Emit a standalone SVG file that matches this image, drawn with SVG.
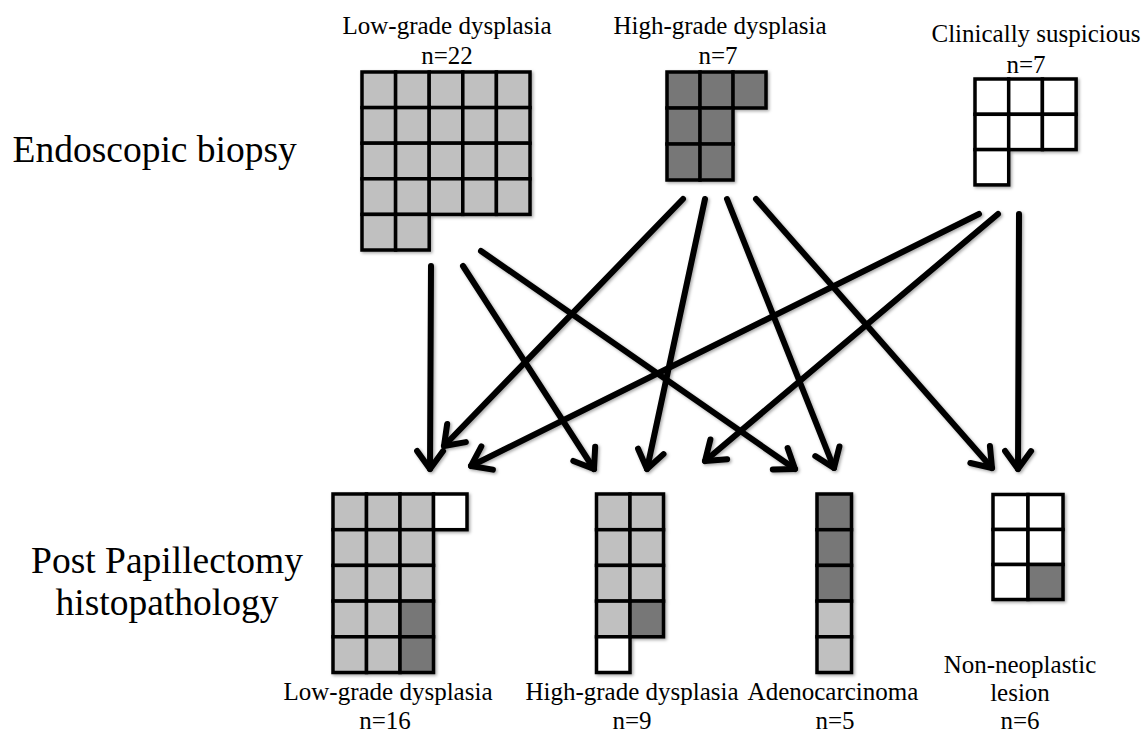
<svg xmlns="http://www.w3.org/2000/svg" width="1144" height="738" viewBox="0 0 1144 738">
<style>
text{font-family:'Liberation Serif','Times New Roman',Tinos,'DejaVu Serif',serif;fill:#000;}
.t{font-size:25px;}
.big{font-size:37.5px;}
.c{stroke:#000;stroke-width:3.5;stroke-linejoin:miter;}
.g{fill:#c0c0c0;}
.d{fill:#777777;}
.w{fill:#ffffff;}
.a{stroke:#000;stroke-width:6;stroke-linecap:round;fill:none;marker-end:url(#ah);}
</style>
<defs>
<marker id="ah" markerUnits="userSpaceOnUse" orient="auto" refX="0" refY="0" markerWidth="40" markerHeight="40" viewBox="-25 -20 30 40" overflow="visible">
<path d="M-18,-13 L0,0 L-18,13" fill="none" stroke="#000" stroke-width="6" stroke-linecap="round" stroke-linejoin="round"/>
</marker>
<filter id="sh" x="-10%" y="-10%" width="130%" height="130%">
<feDropShadow dx="1.5" dy="1.5" stdDeviation="1.5" flood-color="#000" flood-opacity="0.35"/>
</filter>
</defs>
<rect x="0" y="0" width="1144" height="738" fill="#fff"/>

<g id="label-endoscopic">
<text class="big" x="12.5" y="161.5" font-family="Liberation Serif, serif">Endoscopic biopsy</text>
</g>
<g id="label-post">
<text class="big" x="167" y="573" text-anchor="middle" font-family="Liberation Serif, serif">Post Papillectomy</text>
<text class="big" x="167" y="615" text-anchor="middle" font-family="Liberation Serif, serif">histopathology</text>
</g>

<g id="biopsy-lgd">
<text class="t" x="447" y="34" text-anchor="middle">Low-grade dysplasia</text>
<text class="t" x="447" y="64" text-anchor="middle">n=22</text>
<g class="c g" filter="url(#sh)">
<rect x="362" y="72" width="33.6" height="35.6"/><rect x="395.6" y="72" width="33.6" height="35.6"/><rect x="429.2" y="72" width="33.6" height="35.6"/><rect x="462.8" y="72" width="33.6" height="35.6"/><rect x="496.4" y="72" width="33.6" height="35.6"/>
<rect x="362" y="107.6" width="33.6" height="35.6"/><rect x="395.6" y="107.6" width="33.6" height="35.6"/><rect x="429.2" y="107.6" width="33.6" height="35.6"/><rect x="462.8" y="107.6" width="33.6" height="35.6"/><rect x="496.4" y="107.6" width="33.6" height="35.6"/>
<rect x="362" y="143.2" width="33.6" height="35.6"/><rect x="395.6" y="143.2" width="33.6" height="35.6"/><rect x="429.2" y="143.2" width="33.6" height="35.6"/><rect x="462.8" y="143.2" width="33.6" height="35.6"/><rect x="496.4" y="143.2" width="33.6" height="35.6"/>
<rect x="362" y="178.8" width="33.6" height="35.6"/><rect x="395.6" y="178.8" width="33.6" height="35.6"/><rect x="429.2" y="178.8" width="33.6" height="35.6"/><rect x="462.8" y="178.8" width="33.6" height="35.6"/><rect x="496.4" y="178.8" width="33.6" height="35.6"/>
<rect x="362" y="214.4" width="33.6" height="35.6"/><rect x="395.6" y="214.4" width="33.6" height="35.6"/>
</g>
</g>

<g id="biopsy-hgd">
<text class="t" x="720" y="34" text-anchor="middle">High-grade dysplasia</text>
<text class="t" x="718" y="64" text-anchor="middle">n=7</text>
<g class="c d" filter="url(#sh)">
<rect x="667" y="72" width="33" height="36"/><rect x="700" y="72" width="33" height="36"/><rect x="733" y="72" width="33" height="36"/>
<rect x="667" y="108" width="33" height="36"/><rect x="700" y="108" width="33" height="36"/>
<rect x="667" y="144" width="33" height="36"/><rect x="700" y="144" width="33" height="36"/>
</g>
</g>

<g id="biopsy-suspicious">
<text class="t" x="1036" y="42" text-anchor="middle">Clinically suspicious</text>
<text class="t" x="1026" y="73" text-anchor="middle">n=7</text>
<g class="c w" filter="url(#sh)">
<rect x="975" y="79" width="33.7" height="35.3"/><rect x="1008.7" y="79" width="33.7" height="35.3"/><rect x="1042.4" y="79" width="33.7" height="35.3"/>
<rect x="975" y="114.3" width="33.7" height="35.3"/><rect x="1008.7" y="114.3" width="33.7" height="35.3"/><rect x="1042.4" y="114.3" width="33.7" height="35.3"/>
<rect x="975" y="149.6" width="33.7" height="35.3"/>
</g>
</g>

<g id="histo-lgd">
<g class="c" filter="url(#sh)">
<rect class="g" x="333" y="494" width="33.5" height="35.7"/><rect class="g" x="366.5" y="494" width="33.5" height="35.7"/><rect class="g" x="400" y="494" width="33.5" height="35.7"/><rect class="w" x="433.5" y="494" width="33.5" height="35.7"/>
<rect class="g" x="333" y="529.7" width="33.5" height="35.7"/><rect class="g" x="366.5" y="529.7" width="33.5" height="35.7"/><rect class="g" x="400" y="529.7" width="33.5" height="35.7"/>
<rect class="g" x="333" y="565.4" width="33.5" height="35.7"/><rect class="g" x="366.5" y="565.4" width="33.5" height="35.7"/><rect class="g" x="400" y="565.4" width="33.5" height="35.7"/>
<rect class="g" x="333" y="601.1" width="33.5" height="35.7"/><rect class="g" x="366.5" y="601.1" width="33.5" height="35.7"/><rect class="d" x="400" y="601.1" width="33.5" height="35.7"/>
<rect class="g" x="333" y="636.8" width="33.5" height="35.7"/><rect class="g" x="366.5" y="636.8" width="33.5" height="35.7"/><rect class="d" x="400" y="636.8" width="33.5" height="35.7"/>
</g>
<text class="t" x="388" y="700" text-anchor="middle">Low-grade dysplasia</text>
<text class="t" x="385" y="729" text-anchor="middle">n=16</text>
</g>

<g id="histo-hgd">
<g class="c" filter="url(#sh)">
<rect class="g" x="596.5" y="494" width="33.5" height="35.7"/><rect class="g" x="630" y="494" width="33.5" height="35.7"/>
<rect class="g" x="596.5" y="529.7" width="33.5" height="35.7"/><rect class="g" x="630" y="529.7" width="33.5" height="35.7"/>
<rect class="g" x="596.5" y="565.4" width="33.5" height="35.7"/><rect class="g" x="630" y="565.4" width="33.5" height="35.7"/>
<rect class="g" x="596.5" y="601.1" width="33.5" height="35.7"/><rect class="d" x="630" y="601.1" width="33.5" height="35.7"/>
<rect class="w" x="596.5" y="636.8" width="33.5" height="35.7"/>
</g>
<text class="t" x="632" y="700" text-anchor="middle">High-grade dysplasia</text>
<text class="t" x="632" y="729" text-anchor="middle">n=9</text>
</g>

<g id="histo-adeno">
<g class="c" filter="url(#sh)">
<rect class="d" x="817" y="494" width="34.5" height="35.7"/>
<rect class="d" x="817" y="529.7" width="34.5" height="35.7"/>
<rect class="d" x="817" y="565.4" width="34.5" height="35.7"/>
<rect class="g" x="817" y="601.1" width="34.5" height="35.7"/>
<rect class="g" x="817" y="636.8" width="34.5" height="35.7"/>
</g>
<text class="t" x="833" y="700" text-anchor="middle">Adenocarcinoma</text>
<text class="t" x="835" y="729" text-anchor="middle">n=5</text>
</g>

<g id="histo-nonneo">
<g class="c" filter="url(#sh)">
<rect class="w" x="993" y="494.5" width="35" height="35"/><rect class="w" x="1028" y="494.5" width="35" height="35"/>
<rect class="w" x="993" y="529.5" width="35" height="35"/><rect class="w" x="1028" y="529.5" width="35" height="35"/>
<rect class="w" x="993" y="564.5" width="35" height="35"/><rect class="d" x="1028" y="564.5" width="35" height="35"/>
</g>
<text class="t" x="1020" y="673" text-anchor="middle">Non-neoplastic</text>
<text class="t" x="1020" y="701" text-anchor="middle">lesion</text>
<text class="t" x="1020" y="729" text-anchor="middle">n=6</text>
</g>

<g id="connectors" filter="url(#sh)">
<line class="a" x1="431" y1="266" x2="430" y2="469"/>
<line class="a" x1="463" y1="266" x2="594" y2="469"/>
<line class="a" x1="481" y1="251" x2="795" y2="469"/>
<line class="a" x1="683" y1="199" x2="444" y2="446"/>
<line class="a" x1="705" y1="199" x2="647" y2="469"/>
<line class="a" x1="727" y1="199" x2="834" y2="468"/>
<line class="a" x1="756" y1="199" x2="992" y2="468"/>
<line class="a" x1="979" y1="214" x2="471" y2="466"/>
<line class="a" x1="998" y1="214" x2="705" y2="461"/>
<line class="a" x1="1019" y1="214" x2="1018" y2="469"/>
</g>
</svg>
